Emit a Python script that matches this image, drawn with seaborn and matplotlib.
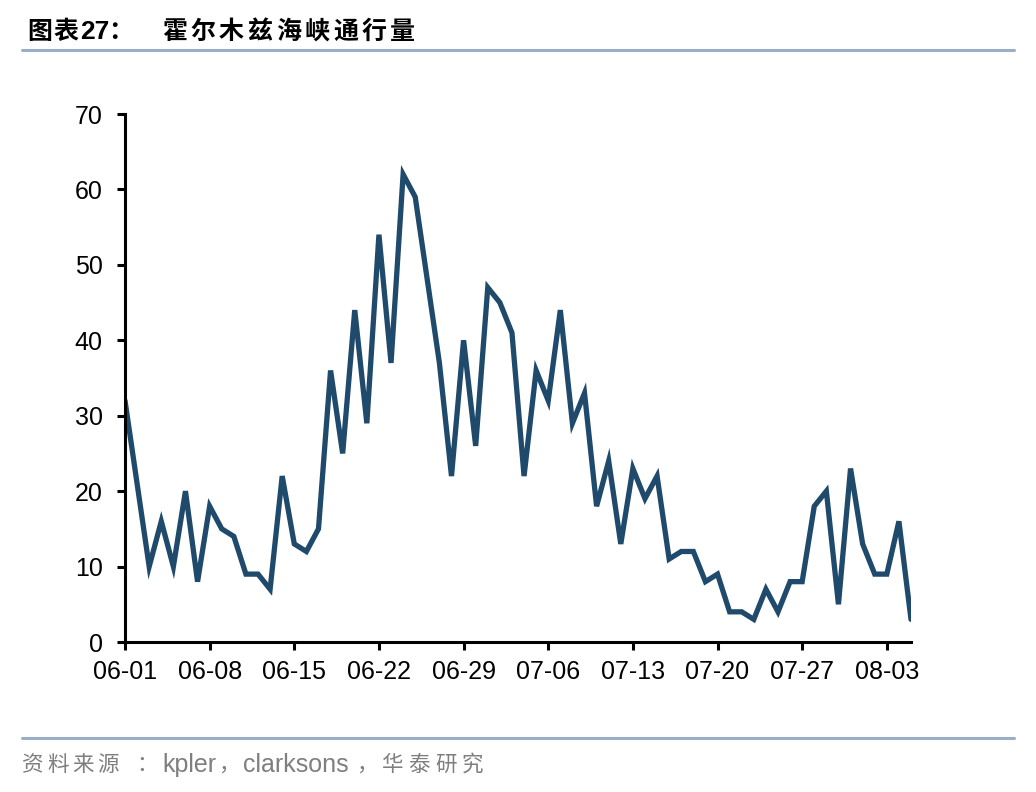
import matplotlib
matplotlib.use("Agg")
import matplotlib.pyplot as plt
import matplotlib.dates as mdates
import seaborn as sns
import pandas as pd
from matplotlib.lines import Line2D

# ---- data ----
start_date = "2025-06-01"
values = [32, 21, 10, 16, 10, 20, 8, 18, 15, 14,
          9, 9, 7, 22, 13, 12, 15, 36, 25, 44,
          29, 54, 37, 62, 59, 48, 37, 22, 40, 26,
          47, 45, 41, 22, 36, 32, 44, 29, 33, 18,
          24, 13, 23, 19, 22, 11, 12, 12, 8, 9,
          4, 4, 3, 7, 4, 8, 8, 18, 20, 5,
          23, 13, 9, 9, 16, 3]
y_ticks = [0, 10, 20, 30, 40, 50, 60, 70]
title_label = "图表"
title_num = "27"
title_text = "霍尔木兹海峡通行量"
source_head = "资料来源"
source_mid = ["kpler", "clarksons"]
source_tail = "华泰研究"

dates = pd.date_range(start_date, periods=len(values), freq="D")
df = pd.DataFrame({"date": dates, "value": values})

sns.set_theme(style="white")
plt.rcParams["font.family"] = ["Liberation Sans", "Noto Sans CJK SC", "DejaVu Sans"]

W, H = 1036, 792
fig = plt.figure(figsize=(W / 100, H / 100), dpi=100)
ax = fig.add_axes([125 / W, 1 - 642 / H, (911 - 125) / W, (642 - 114) / H])

sns.lineplot(data=df, x="date", y="value", ax=ax, color="#1F4A6B",
             linewidth=3.8, solid_joinstyle="miter")

ax.set_xlim(dates[0], dates[-1])
ax.set_ylim(0, 70)
ax.set_yticks(y_ticks)
ax.set_xticks(dates[::7])
ax.xaxis.set_major_formatter(mdates.DateFormatter("%m-%d"))
ax.set_xlabel("")
ax.set_ylabel("")

for s in ["top", "right"]:
    ax.spines[s].set_visible(False)
for s in ["left", "bottom"]:
    ax.spines[s].set_color("black")
    ax.spines[s].set_linewidth(2.2)

ax.tick_params(axis="both", which="major", direction="out", length=6,
               width=2.2, color="black", labelsize=18, labelcolor="black")
ax.tick_params(axis="y", pad=10, left=True)
ax.tick_params(axis="x", pad=7, bottom=True)

cjk = ["Noto Sans CJK SC", "DejaVu Sans"]
lat = ["Liberation Sans", "Noto Sans CJK SC", "DejaVu Sans"]


def fx(px):
    return px / W


def fy(py):
    return 1 - py / H


def spaced(text, x_center0, pitch, y, **kw):
    for i, ch in enumerate(text):
        fig.text(fx(x_center0 + pitch * i), fy(y), ch, ha="center",
                 va="center", **kw)


# title
spaced(title_label, 39.5, 26, 32, fontsize=18, fontweight="bold", family=cjk,
       color="black")
fig.text(fx(80), fy(32), title_num, fontsize=19, fontweight="bold", family=lat,
         ha="left", va="center", color="black")
fig.text(fx(121), fy(32), "：", fontsize=18, fontweight="bold", family=cjk,
         ha="center", va="center", color="black")
spaced(title_text, 174.5, 28.5, 32, fontsize=18, fontweight="bold",
       family=cjk, color="black")

# rules
for yy in (50, 738):
    fig.add_artist(Line2D([fx(22), fx(1014)], [fy(yy), fy(yy)],
                          color="#9AAFC7", linewidth=2.2,
                          transform=fig.transFigure))

# source line
grey = "#7F7F7F"
spaced(source_head, 33, 25, 765, fontsize=15.5, family=cjk, color=grey)
fig.text(fx(147), fy(765), "：", fontsize=15.5, family=cjk, ha="center",
         va="center", color=grey)
fig.text(fx(162), fy(765), source_mid[0], fontsize=18, family=lat,
         ha="left", va="center", color=grey)
fig.text(fx(218), fy(765), "，", fontsize=15.5, family=cjk, ha="left",
         va="center", color=grey)
fig.text(fx(243), fy(765), source_mid[1], fontsize=18, family=lat,
         ha="left", va="center", color=grey)
fig.text(fx(356), fy(765), "，", fontsize=15.5, family=cjk, ha="left",
         va="center", color=grey)
spaced(source_tail, 392, 27, 765, fontsize=15.5, family=cjk, color=grey)

fig.savefig("out.png", dpi=100)
